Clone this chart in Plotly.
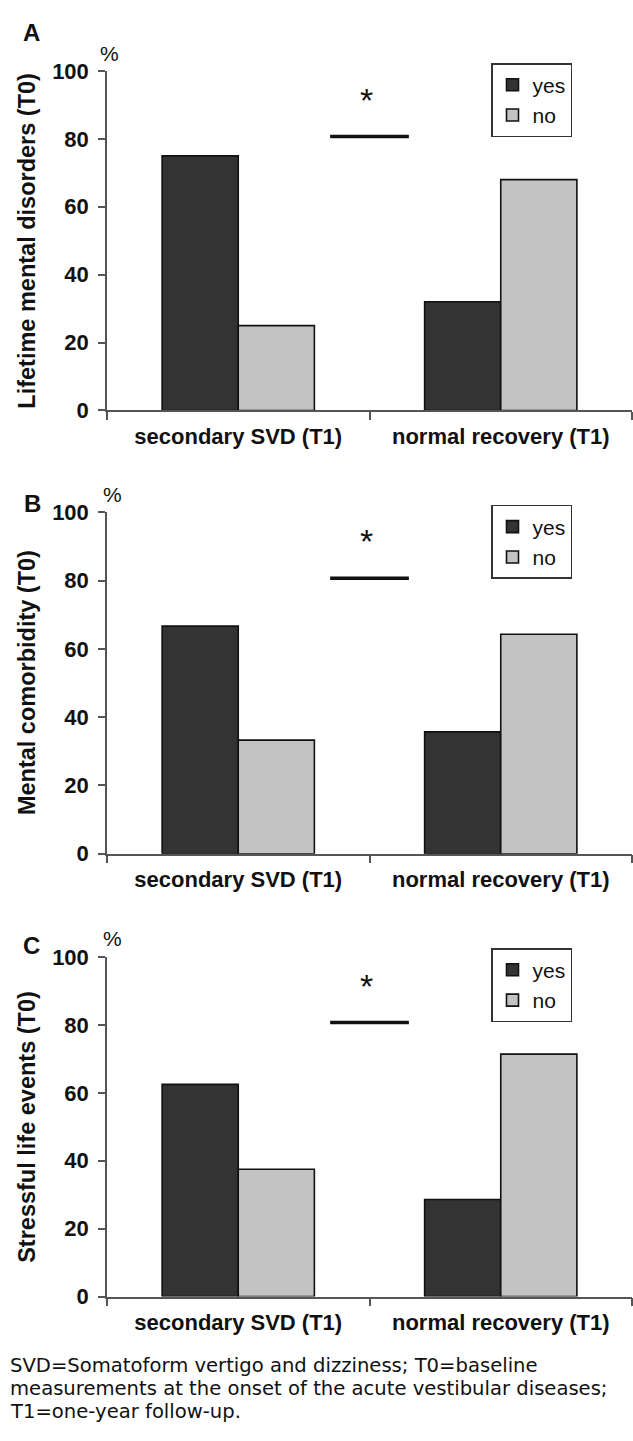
import plotly.graph_objects as go

W, H = 633, 1441

# ---------------- data ----------------
categories = ["secondary SVD (T1)", "normal recovery (T1)"]
series_names = ["yes", "no"]
yes_A = [75, 32]
no_A = [25, 68]
yes_B = [66.7, 35.7]
no_B = [33.3, 64.3]
yes_C = [62.5, 28.6]
no_C = [37.5, 71.4]
panel_letters = ["A", "B", "C"]
y_titles = ["Lifetime mental disorders (T0)", "Mental comorbidity (T0)", "Stressful life events (T0)"]
y_tick_vals = [0, 20, 40, 60, 80, 100]
sig_level = 80.7
star_level = 91.5
caption_lines = [
    "SVD=Somatoform vertigo and dizziness; T0=baseline",
    "measurements at the onset of the acute vestibular diseases;",
    "T1=one-year follow-up.",
]

# ---------------- styling / geometry (pixels) ----------------
FONT = "Liberation Sans, Arial, sans-serif"
CAPTION_FONT = "DejaVu Sans, sans-serif"
YES_COLOR = "#333333"
NO_COLOR = "#c3c3c3"
AXIS_COLOR = "#555555"
INK = "#111111"
X_LEFT, X_RIGHT = 107, 632
PANELS = [(60, 405.5), (509.3, 856.6), (961.7, 1307.3)]   # (y of 100, y of 0)
LETTER_POS = [(31, 21), (32, 500), (31, 950)]
PCT_POS = [(109, 42), (112, 491), (112, 943)]
LEGEND_TOP = [52, 501.7, 952.7]
LEGEND_LEFT = 491
CAPTION_Y = [1377, 1400.5, 1424]


def px(x):
    return x / W


def py(y):
    return 1 - y / H


panel_data = [(yes_A, no_A), (yes_B, no_B), (yes_C, no_C)]

fig = go.Figure()
annotations = []
shapes = []
layout = dict(
    width=W, height=H,
    margin=dict(l=0, r=0, t=0, b=0),
    paper_bgcolor="white", plot_bgcolor="white",
    barmode="group", bargap=0.42, bargroupgap=0,
    font=dict(family=FONT, color=INK),
)

for i, (yes_vals, no_vals) in enumerate(panel_data):
    k = "" if i == 0 else str(i + 1)
    xa, ya = "x" + k, "y" + k
    leg = "legend" + k
    for name, vals, col in [(series_names[0], yes_vals, YES_COLOR), (series_names[1], no_vals, NO_COLOR)]:
        fig.add_trace(go.Bar(
            x=categories, y=vals, name=name, xaxis=xa, yaxis=ya,
            marker=dict(color=col, line=dict(color=INK, width=1.6)),
            legend=leg, showlegend=True,
        ))
    top, bot = PANELS[i]
    layout["xaxis" + k] = dict(
        domain=[px(X_LEFT), px(X_RIGHT)], anchor=ya,
        type="category", range=[-0.5, 1.5],
        showline=True, linecolor=AXIS_COLOR, linewidth=1.5,
        ticks="outside", tickson="boundaries", ticklen=8, tickwidth=1.5, tickcolor=AXIS_COLOR,
        tickfont=dict(family=FONT, size=22, weight="bold", color=INK),
        ticklabelstandoff=5,
        showgrid=False, zeroline=False, fixedrange=True,
    )
    layout["yaxis" + k] = dict(
        domain=[py(bot), py(top)], anchor=xa,
        range=[0, 100], tickvals=y_tick_vals,
        showline=True, linecolor=AXIS_COLOR, linewidth=1.5,
        ticks="outside", ticklen=7, tickwidth=1.5, tickcolor=AXIS_COLOR,
        tickfont=dict(family=FONT, size=22, weight="bold", color=INK),
        ticklabelstandoff=5,
        showgrid=False, zeroline=False, fixedrange=True,
    )
    layout[leg] = dict(
        x=px(LEGEND_LEFT), y=py(LEGEND_TOP[i]), xanchor="left", yanchor="top",
        bordercolor="#333333", borderwidth=1.5, bgcolor="white",
        font=dict(family=FONT, size=21, color=INK),
        itemwidth=30, tracegroupgap=0,
    )
    # significance bar and star
    shapes.append(dict(type="line", xref=xa, yref=ya, x0=0.35, x1=0.65,
                       y0=sig_level, y1=sig_level, line=dict(color=INK, width=3.5)))
    annotations.append(dict(xref=xa, yref=ya, x=0.49, y=star_level, text="*", showarrow=False,
                            font=dict(family=FONT, size=34, color=INK),
                            xanchor="center", yanchor="middle"))
    # panel letter
    lx, ly = LETTER_POS[i]
    annotations.append(dict(xref="paper", yref="paper", x=px(lx), y=py(ly), text=panel_letters[i],
                            showarrow=False, font=dict(family=FONT, size=24, weight="bold", color=INK),
                            xanchor="center", yanchor="middle"))
    # percent unit
    qx, qy = PCT_POS[i]
    annotations.append(dict(xref="paper", yref="paper", x=px(qx), y=py(qy), text="%",
                            showarrow=False, font=dict(family=FONT, size=21, color=INK),
                            xanchor="center", yanchor="middle"))
    # y title, centred on the plot area
    annotations.append(dict(xref="paper", yref="paper", x=px(27), y=py((top + bot) / 2), text=y_titles[i],
                            textangle=-90, showarrow=False,
                            font=dict(family=FONT, size=23.5, weight="bold", color=INK),
                            xanchor="center", yanchor="middle"))

for line, cy in zip(caption_lines, CAPTION_Y):
    annotations.append(dict(xref="paper", yref="paper", x=px(8), y=py(cy), text=line,
                            showarrow=False, font=dict(family=CAPTION_FONT, size=19.6, color=INK),
                            xanchor="left", yanchor="middle"))

layout["annotations"] = annotations
layout["shapes"] = shapes
fig.update_layout(**layout)
fig.write_html("out.html", config={"displayModeBar": False},
               post_script="document.body.style.margin='0';")
